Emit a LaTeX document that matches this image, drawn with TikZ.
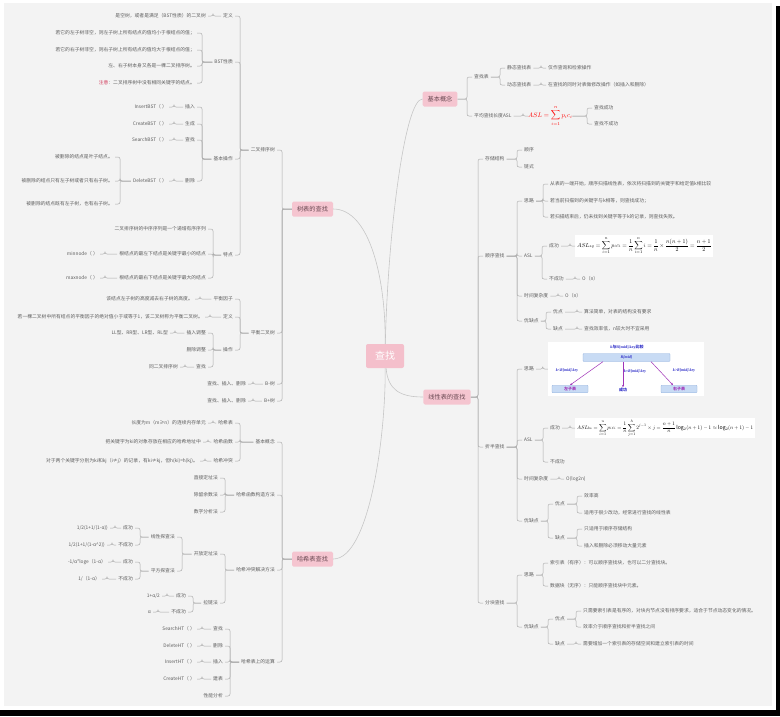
\documentclass[tikz,border=0pt]{standalone}
\usepackage{fontspec}
\setmainfont{Noto Sans CJK SC}
\newfontfamily\tnr{Liberation Serif}
\usetikzlibrary{arrows.meta}
\definecolor{panel}{HTML}{F3F3F3}
\definecolor{leaftext}{HTML}{5E5E5E}
\definecolor{linegray}{HTML}{ABABAB}
\definecolor{curvegray}{HTML}{C6C6C6}
\definecolor{topicfill}{HTML}{F5C5D0}
\definecolor{topictext}{HTML}{6A4A53}
\definecolor{rootfill}{HTML}{F4BFCB}
\definecolor{notered}{HTML}{D2405F}
\definecolor{dblue}{HTML}{2E2EC8}
\definecolor{dpurple}{HTML}{A033B8}
\definecolor{barblue}{HTML}{C8DBF4}
\definecolor{barline}{HTML}{8EAEDC}
\newcommand\linkR[2]{\draw[conn] (#1.east) -| ([xshift=-5pt]#2.west) -- (#2.west);}
\newcommand\linkL[2]{\draw[conn] (#1.west) -| ([xshift=5pt]#2.east) -- (#2.east);}
\tikzset{
  leaf/.style={font=\fontsize{4.8}{5.6}\selectfont, text=leaftext, inner xsep=2pt, inner ysep=1pt},
  lt/.style={leaf, anchor=east},
  rt/.style={leaf, anchor=west},
  topic/.style={fill=topicfill, text=topictext, rounded corners=1.5pt, font=\fontsize{6.2}{7}\selectfont, inner xsep=5pt, minimum height=15pt},
  rootnode/.style={fill=rootfill, text=white, rounded corners=2pt, font=\fontsize{10}{11}\selectfont, minimum width=38pt, minimum height=24pt},
  conn/.style={draw=linegray, line width=0.5pt, rounded corners=2pt},
  curvy/.style={draw=curvegray, line width=0.6pt},
  formbox/.style={fill=white, inner sep=2pt, anchor=west},
  dtext/.style={font=\fontsize{4}{4.5}\selectfont\bfseries, text=dblue, inner sep=0.5pt},
  bar/.style={fill=barblue, draw=barline, line width=0.3pt, rounded corners=0.8pt, inner sep=0pt, minimum height=8pt, font=\fontsize{4}{4.5}\selectfont\bfseries},
  parr/.style={draw=dpurple, line width=0.5pt, -{Stealth[length=2.5pt,width=2pt]}}
}
\begin{document}
\begin{tikzpicture}[x=1pt, y=-1pt]
  \useasboundingbox (0,0) rectangle (780,716);
  \fill[white] (0,0) rectangle (780,716);
  \fill[panel] (4,3) rectangle (772,706);
  \fill[black] (0,710) rectangle (780,716);
  \fill[black] (776,6) rectangle (780,716);

  \node (root) at (385,356) [rootnode] {查找};
  \node (jbgn) at (440,99) [topic] {基本概念};
  \node (xxb) at (447,397) [topic] {线性表的查找};
  \node (sb) at (312.5,209) [topic] {树表的查找};
  \node (hx) at (312.5,559) [topic] {哈希表查找};
  \draw[curvy] (root) .. controls (388,230) and (405,99) .. (jbgn.west);
  \draw[curvy] (root) .. controls (388,390) and (400,397) .. (xxb.west);
  \draw[curvy] (sb.east) .. controls (370,209) and (386,280) .. (root);
  \draw[curvy] (hx.east) .. controls (370,559) and (386,432) .. (root);

  \node (czb) at (472,77) [rt] {查找表};
  \node (jtb) at (505,68) [rt] {静态查找表};
  \node (jtb1) at (546,68) [rt] {仅作查询和检索操作};
  \node (dtb) at (505,85) [rt] {动态查找表};
  \node (dtb1) at (546,85) [rt] {在查找的同时对表做修改操作（如插入和删除）};
  \node (asl) at (472,116) [rt] {平均查找长度ASL};
  \node (aslf) at (528,116) [anchor=west, inner sep=0pt, text=red] {\resizebox{44pt}{!}{$ASL=\displaystyle\sum_{i=1}^{n}p_ic_i$}};
  \node (cgs) at (592,108) [rt] {查找成功};
  \node (bcg) at (592,124) [rt] {查找不成功};
  \linkR{jbgn}{czb} \linkR{jbgn}{asl}
  \linkR{czb}{jtb} \linkR{czb}{dtb} \linkR{jtb}{jtb1} \linkR{dtb}{dtb1}
  \linkR{asl}{aslf} \linkR{aslf}{cgs} \linkR{aslf}{bcg}

  \node (ccjg) at (483,159) [rt] {存储结构};
  \node (sx) at (522,150) [rt] {顺序};
  \node (ls) at (522,167) [rt] {链式};
  \node (sxcz) at (483,256) [rt] {顺序查找};
  \node (sl1) at (522,201) [rt] {思路};
  \node (sl1a) at (548,184) [rt] {从表的一端开始，顺序扫描线性表，依次将扫描到的关键字和给定值k相比较};
  \node (sl1b) at (548,201) [rt] {若当前扫描到的关键字与k相等，则查找成功；};
  \node (sl1c) at (548,217) [rt] {若扫描结束后，仍未找到关键字等于k的记录，则查找失败。};
  \node (asl1) at (522,256) [rt] {ASL};
  \node (cg1) at (547,246) [rt] {成功};
  \node (f1) at (575,246) [formbox] {\resizebox{134pt}{!}{$\displaystyle ASL_{sq}=\sum_{i=1}^{n}p_ic_i=\frac{1}{n}\sum_{i=1}^{n}i=\frac{1}{n}\times\frac{n(n+1)}{2}=\frac{n+1}{2}$}};
  \node (bcg1) at (547,279) [rt] {不成功};
  \node (bcg1a) at (580,279) [rt] {O（n）};
  \node (sj1) at (522,296) [rt] {时间复杂度};
  \node (sj1a) at (563,296) [rt] {O（n）};
  \node (yq1) at (522,321) [rt] {优缺点};
  \node (yd1) at (551,312) [rt] {优点};
  \node (yd1a) at (582,312) [rt] {算法简单，对表的结构没有要求};
  \node (qd1) at (551,329) [rt] {缺点};
  \node (qd1a) at (582,329) [rt] {查找效率低，n较大时不宜采用};
  \linkR{xxb}{ccjg} \linkR{xxb}{sxcz}
  \linkR{ccjg}{sx} \linkR{ccjg}{ls}
  \linkR{sxcz}{sl1} \linkR{sxcz}{asl1} \linkR{sxcz}{sj1} \linkR{sxcz}{yq1}
  \linkR{sl1}{sl1a} \linkR{sl1}{sl1b} \linkR{sl1}{sl1c}
  \linkR{asl1}{cg1} \linkR{asl1}{bcg1} \linkR{cg1}{f1} \linkR{bcg1}{bcg1a}
  \linkR{sj1}{sj1a}
  \linkR{yq1}{yd1} \linkR{yq1}{qd1} \linkR{yd1}{yd1a} \linkR{qd1}{qd1a}

  \node (zbcz) at (483,447) [rt] {折半查找};
  \node (sl2) at (522,369) [rt] {思路};
  \node (ezt) at (626,369) [fill=white, minimum width=156pt, minimum height=54pt, inner sep=0pt] {};
  \node (kmid) at (627,347) [dtext] {{\tnr\itshape k}与{\tnr R[mid].key}比较};
  \node (rmid) at (626.5,357.5) [bar, minimum width=87pt, text=dblue] {\tnr\itshape R[mid]};
  \node (zzb) at (570,389) [bar, minimum width=36pt, minimum height=7.5pt, text=dpurple] {左子表};
  \node (yzb) at (679,389) [bar, minimum width=36pt, minimum height=7.5pt, text=dpurple] {右子表};
  \node (cgz) at (623,390) [dtext] {成功};
  \node (lz) at (567,371) [dtext] {\tnr\itshape k<R[mid].key};
  \node (lm) at (635,372) [dtext] {\tnr\itshape k=R[mid].key};
  \node (lr) at (684,371) [dtext] {\tnr\itshape k>R[mid].key};
  \draw[parr] ([xshift=-23.5pt]rmid.south) -- (zzb.north);
  \draw[parr] ([xshift=-3.5pt]rmid.south) -- (cgz.north);
  \draw[parr] ([xshift=24.5pt]rmid.south) -- ([xshift=-6pt]yzb.north);
  \node (asl2) at (522,440) [rt] {ASL};
  \node (cg2) at (548,428) [rt] {成功};
  \node (f2) at (575,428) [formbox] {\resizebox{176pt}{!}{$\displaystyle ASL_{bs}=\sum_{i=1}^{n}p_ic_i=\frac{1}{n}\sum_{j=1}^{h}2^{j-1}\times j=\frac{n+1}{n}\log_2(n+1)-1\approx\log_2(n+1)-1$}};
  \node (bcg2) at (548,462) [rt] {不成功};
  \node (sj2) at (522,479) [rt] {时间复杂度};
  \node (sj2a) at (564,479) [rt] {O(log2n)};
  \node (yq2) at (522,521) [rt] {优缺点};
  \node (yd2) at (553,504) [rt] {优点};
  \node (yd2a) at (582,496) [rt] {效率高};
  \node (yd2b) at (582,513) [rt] {适用于很少改动，经常进行查找的线性表};
  \node (qd2) at (553,538) [rt] {缺点};
  \node (qd2a) at (582,529) [rt] {只适用于顺序存储结构};
  \node (qd2b) at (582,546) [rt] {插入和删除必须移动大量元素};
  \linkR{xxb}{zbcz}
  \linkR{zbcz}{sl2} \linkR{zbcz}{asl2} \linkR{zbcz}{sj2} \linkR{zbcz}{yq2}
  \linkR{sl2}{ezt}
  \linkR{asl2}{cg2} \linkR{asl2}{bcg2} \linkR{cg2}{f2}
  \linkR{sj2}{sj2a}
  \linkR{yq2}{yd2} \linkR{yq2}{qd2}
  \linkR{yd2}{yd2a} \linkR{yd2}{yd2b} \linkR{qd2}{qd2a} \linkR{qd2}{qd2b}

  \node (fkcz) at (483,603) [rt] {分块查找};
  \node (sl3) at (522,575) [rt] {思路};
  \node (sl3a) at (548,563) [rt] {索引表（有序）：可以顺序查找块，也可以二分查找块。};
  \node (sl3b) at (548,586) [rt] {数据块（无序）：只能顺序查找块中元素。};
  \node (yq3) at (522,627) [rt] {优缺点};
  \node (yd3) at (553,619) [rt] {优点};
  \node (yd3a) at (581,611) [rt] {只需要索引表是有序的，对块内节点没有排序要求，适合于节点动态变化的情况。};
  \node (yd3b) at (581,627) [rt] {效率介于顺序查找和折半查找之间};
  \node (qd3) at (553,644) [rt] {缺点};
  \node (qd3a) at (581,644) [rt] {需要增加一个索引表的存储空间和建立索引表的时间};
  \linkR{xxb}{fkcz}
  \linkR{fkcz}{sl3} \linkR{fkcz}{yq3}
  \linkR{sl3}{sl3a} \linkR{sl3}{sl3b}
  \linkR{yq3}{yd3} \linkR{yq3}{qd3}
  \linkR{yd3}{yd3a} \linkR{yd3}{yd3b} \linkR{qd3}{qd3a}

  \node (ecpx) at (277,150) [lt] {二叉排序树};
  \node (dy1) at (235,16) [lt] {定义};
  \node (dy1a) at (208,16) [lt] {是空树，或者是满足（BST性质）的二叉树};
  \node (bst) at (235,62) [lt] {BST性质};
  \node (bst1) at (197,33) [lt] {若它的左子树非空，则左子树上所有结点的值均小于根结点的值；};
  \node (bst2) at (197,50) [lt] {若它的右子树非空，则右子树上所有结点的值均大于根结点的值；};
  \node (bst3) at (197,66) [lt] {左、右子树本身又各是一棵二叉排序树。};
  \node (bst4) at (197,83) [lt] {\textcolor{notered}{注意}：二叉排序树中没有相同关键字的结点。};
  \node (jbcz) at (235,159) [lt] {基本操作};
  \node (cr) at (197,107) [lt] {插入};
  \node (cr1) at (169,107) [lt] {InsertBST（ ）};
  \node (sc) at (197,124) [lt] {生成};
  \node (sc1) at (169,124) [lt] {CreateBST（ ）};
  \node (cz) at (197,140) [lt] {查找};
  \node (cz1) at (169,140) [lt] {SearchBST（ ）};
  \node (sch) at (197,181) [lt] {删除};
  \node (sch1) at (169,181) [lt] {DeleteBST（ ）};
  \node (scA) at (115,157) [lt] {被删除的结点是叶子结点。};
  \node (scB) at (115,181) [lt] {被删除的结点只有左子树或者只有右子树。};
  \node (scC) at (115,204) [lt] {被删除的结点既有左子树，也有右子树。};
  \node (td) at (235,255) [lt] {特点};
  \node (td1) at (208,229) [lt] {二叉排序树的中序序列是一个递增有序序列};
  \node (td2) at (208,254) [lt] {根结点的最左下结点是关键字最小的结点};
  \node (td2a) at (100,254) [lt] {minnode（ ）};
  \node (td3) at (208,278) [lt] {根结点的最右下结点是关键字最大的结点};
  \node (td3a) at (100,278) [lt] {maxnode（ ）};
  \linkL{sb}{ecpx}
  \linkL{ecpx}{dy1} \linkL{ecpx}{bst} \linkL{ecpx}{jbcz} \linkL{ecpx}{td}
  \linkL{dy1}{dy1a}
  \linkL{bst}{bst1} \linkL{bst}{bst2} \linkL{bst}{bst3} \linkL{bst}{bst4}
  \linkL{jbcz}{cr} \linkL{jbcz}{sc} \linkL{jbcz}{cz} \linkL{jbcz}{sch}
  \linkL{cr}{cr1} \linkL{sc}{sc1} \linkL{cz}{cz1} \linkL{sch}{sch1}
  \linkL{sch1}{scA} \linkL{sch1}{scB} \linkL{sch1}{scC}
  \linkL{td}{td1} \linkL{td}{td2} \linkL{td}{td3}
  \linkL{td2}{td2a} \linkL{td3}{td3a}

  \node (phecs) at (277,333) [lt] {平衡二叉树};
  \node (phyz) at (235,299) [lt] {平衡因子};
  \node (phyz1) at (195,299) [lt] {该结点左子树的高度减去右子树的高度。};
  \node (dy2) at (235,317) [lt] {定义};
  \node (dy2a) at (205,317) [lt] {若一棵二叉树中所有结点的平衡因子的绝对值小于或等于1，该二叉树称为平衡二叉树。};
  \node (cz2) at (235,350) [lt] {操作};
  \node (crtz) at (208,333) [lt] {插入调整};
  \node (crtz1) at (170,333) [lt] {LL型、RR型、LR型、RL型};
  \node (sctz) at (208,350) [lt] {删除调整};
  \node (czz) at (208,367) [lt] {查找};
  \node (czz1) at (180,367) [lt] {同二叉排序树};
  \node (bs) at (277,384) [lt] {B-树};
  \node (bs1) at (248,384) [lt] {查找、插入、删除};
  \node (bps) at (277,401) [lt] {B+树};
  \node (bps1) at (248,401) [lt] {查找、插入、删除};
  \linkL{sb}{phecs} \linkL{sb}{bs} \linkL{sb}{bps}
  \linkL{phecs}{phyz} \linkL{phecs}{dy2} \linkL{phecs}{cz2}
  \linkL{phyz}{phyz1} \linkL{dy2}{dy2a}
  \linkL{cz2}{crtz} \linkL{cz2}{sctz} \linkL{cz2}{czz}
  \linkL{crtz}{crtz1} \linkL{czz}{czz1}
  \linkL{bs}{bs1} \linkL{bps}{bps1}

  \node (jbgn2) at (277,442) [lt] {基本概念};
  \node (hxb) at (235,423) [lt] {哈希表};
  \node (hxb1) at (208,423) [lt] {长度为m（m≥n）的连续内存单元};
  \node (hxhs) at (235,442) [lt] {哈希函数};
  \node (hxhs1) at (203,442) [lt] {把关键字为ki的对象存放在相应的哈希地址中};
  \node (hxct) at (235,461) [lt] {哈希冲突};
  \node (hxct1) at (200,461) [lt] {对于两个关键字分别为ki和kj（i≠j）的记录，有ki≠kj，但h(ki)=h(kj)。};
  \node (gzff) at (277,495) [lt] {哈希函数构造方法};
  \node (zjdz) at (220,478) [lt] {直接定址法};
  \node (clys) at (220,495) [lt] {除留余数法};
  \node (szfx) at (220,512) [lt] {数字分析法};
  \node (ctjj) at (277,570) [lt] {哈希冲突解决方法};
  \node (kfdz) at (220,554) [lt] {开放定址法};
  \node (xxtc) at (177,537) [lt] {线性探查法};
  \node (xcg) at (135,528) [lt] {成功};
  \node (xcg1) at (110,528) [lt] {1/2(1+1/(1-α))};
  \node (xbcg) at (135,545) [lt] {不成功};
  \node (xbcg1) at (107,545) [lt] {1/2(1+1/(1-α\textasciicircum 2))};
  \node (pftc) at (177,571) [lt] {平方探查法};
  \node (pcg) at (135,562) [lt] {成功};
  \node (pcg1) at (108,562) [lt] {-1/α*loge（1-α）};
  \node (pbcg) at (135,579) [lt] {不成功};
  \node (pbcg1) at (102,579) [lt] {1/（1-α）};
  \node (llf) at (220,603) [lt] {拉链法};
  \node (lcg) at (188,596) [lt] {成功};
  \node (lcg1) at (162,596) [lt] {1+α/2};
  \node (lbcg) at (188,612) [lt] {不成功};
  \node (lbcg1) at (153,612) [lt] {α};
  \node (hxys) at (277,662) [lt] {哈希表上的运算};
  \node (ys1) at (225,629) [lt] {查找};
  \node (ys1a) at (197,629) [lt] {SearchHT（ ）};
  \node (ys2) at (225,646) [lt] {删除};
  \node (ys2a) at (197,646) [lt] {DeleteHT（ ）};
  \node (ys3) at (225,662) [lt] {插入};
  \node (ys3a) at (197,662) [lt] {InsertHT（ ）};
  \node (ys4) at (225,679) [lt] {建表};
  \node (ys4a) at (197,679) [lt] {CreateHT（ ）};
  \node (ys5) at (225,696) [lt] {性能分析};
  \linkL{hx}{jbgn2} \linkL{hx}{gzff} \linkL{hx}{ctjj} \linkL{hx}{hxys}
  \linkL{jbgn2}{hxb} \linkL{jbgn2}{hxhs} \linkL{jbgn2}{hxct}
  \linkL{hxb}{hxb1} \linkL{hxhs}{hxhs1} \linkL{hxct}{hxct1}
  \linkL{gzff}{zjdz} \linkL{gzff}{clys} \linkL{gzff}{szfx}
  \linkL{ctjj}{kfdz} \linkL{ctjj}{llf}
  \linkL{kfdz}{xxtc} \linkL{kfdz}{pftc}
  \linkL{xxtc}{xcg} \linkL{xxtc}{xbcg} \linkL{xcg}{xcg1} \linkL{xbcg}{xbcg1}
  \linkL{pftc}{pcg} \linkL{pftc}{pbcg} \linkL{pcg}{pcg1} \linkL{pbcg}{pbcg1}
  \linkL{llf}{lcg} \linkL{llf}{lbcg} \linkL{lcg}{lcg1} \linkL{lbcg}{lbcg1}
  \linkL{hxys}{ys1} \linkL{hxys}{ys2} \linkL{hxys}{ys3} \linkL{hxys}{ys4} \linkL{hxys}{ys5}
  \linkL{ys1}{ys1a} \linkL{ys2}{ys2a} \linkL{ys3}{ys3a} \linkL{ys4}{ys4a}
\end{tikzpicture}
\end{document}
